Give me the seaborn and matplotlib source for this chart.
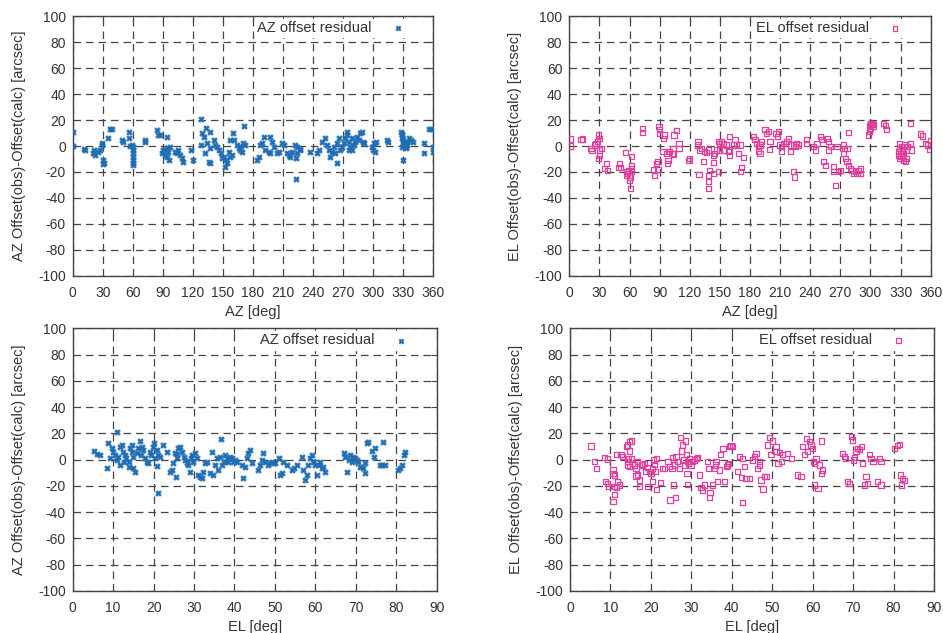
import numpy as np
import pandas as pd
import matplotlib
matplotlib.use("Agg")
import matplotlib.pyplot as plt
import seaborn as sns

# ── Data (AZ deg / EL deg, residual arcsec) ──────────────────────────────────
az_vs_az = [
    (0.6, 11), (0.0, 0), (11.3, -2.5), (12, -3), (21, -3), (20.6, -5.7), (22.3, -7),
    (25.6, -4.4), (27.3, -3), (29, 0.8), (29.6, 2), (30.6, -10.8), (31.3, -13), (30.6, -14),
    (35.6, 6), (37.3, 13), (39, 13), (49, 4.6), (50, 2.8), (56.6, 11), (56.6, 6), (57.3, 0.3),
    (59, 0.8), (60.6, -0.5), (60, -3), (60.6, -5.7), (60.3, -8.3), (60.3, -10.8), (60.6, -13.4),
    (60, -14.7), (72.3, 5), (72.3, 3.4), (84, 12.4), (85.6, 8.5), (87.3, 8.5), (94, 7.2),
    (89, -5.7), (90.6, -3), (94, -1.8), (95.6, -4.4), (97.3, -0.5), (96.3, -10.8), (92.3, -7),
    (94, -8.3), (102, -4.4), (104, -5.7), (105.6, -3), (109, -9.6), (107.3, -7), (110, -12),
    (118, -3), (120, -10.8), (128.3, 20.9), (133.3, 13.7), (137.3, 11.1), (129, 9.8),
    (130.6, 7.2), (128, 0.8), (134, 2.1), (137.3, -1.8), (135.6, -12.1), (137.3, -13.4),
    (132.3, -5.2), (140.6, 4.7), (142.3, 0.8), (144, -0.5), (145.6, -3.1), (148, -5.7),
    (150.6, -8.3), (153.3, -10.9), (152.3, -16), (154, -13.4), (149, -9.6), (157.3, -8.3),
    (159, -7), (160, 9.8), (160.6, 4.7), (157.3, 4.7), (164, 0.8), (165.6, -1.8), (167.3, -3.1),
    (169, -4.4), (170.6, 15.5), (172.3, 0.8), (170, 2.1), (167.3, -0.5), (155.6, -4.4),
    (184, -10.9), (185.6, -8.3), (187.3, 0.8), (189, 2.1), (190.6, 7.2), (192.3, -3.1),
    (197.3, 7.2), (199, 3.4), (195.6, -4.4), (197.3, -5.7), (200.6, -0.5), (204, -5.7),
    (205.6, -4.4), (209, 2.1), (210.6, 0.8), (214, -5.7), (215.6, -7), (217.3, -8.3),
    (219, -4.4), (222.3, 0.8), (224, -0.5), (223.3, -9.6), (224, -5.7), (227.3, -3.1),
    (222.6, -25.6), (226.6, -2.6), (236.6, -4.4), (244, -5.7), (245.6, -3.1), (249, 3.4),
    (252.3, 6), (254, 0.8), (255.6, -3.1), (257.3, -8.3), (259, -4.4), (260.6, -0.5),
    (262.3, -5.7), (264, 2.1), (265.6, 6), (264, -12.9), (267.3, -3.1), (269, -0.5),
    (270.6, 2.1), (272.3, 6), (274, 11.1), (274, 8.5), (275.6, 3.4), (277.3, -0.5), (279, 6),
    (280.6, 0.8), (282.3, 3.4), (284, 7.2), (285.6, 4.7), (287.3, 9.8), (289, 11.1),
    (290, 3.4), (290.6, 2.1), (279, -3.1), (275.6, -3.1), (299, -0.5), (300, -3.1),
    (300.6, 2.1), (302.3, 3.4), (301.3, -4.4), (313.3, 4.7), (314.6, 3.4), (328, 11.1),
    (329, 8.5), (329, 6), (330, 3.4), (330.6, 0.8), (329, -0.5), (331.6, 2.1), (334, 3.4),
    (335.6, 6), (337.3, 4.7), (340, 3.4), (330, -10.9), (332.3, -0.5), (334, 0.8),
    (328.5, 9.5), (329.5, 4.5), (331, 1.5), (333, -1.5), (350.6, 2.1), (350.6, -5.2),
    (355.6, 13), (358, 13), (360, -4.4), (360, -0.5),
]

el_vs_az = [
    (0.7, 5.4), (1.4, 0), (11.7, 4.7), (13.3, 5.4), (21.7, -1.8), (22.7, -3.6), (25, 0.8),
    (26.7, 2.1), (28.3, 3.4), (29.3, 8.5), (30, 6), (30, -3.1), (30, -7), (29.3, -9.6),
    (31.7, -1.8), (36.7, -13.4), (35, -17.3), (38.3, -19.1), (50, -13.4), (49.3, -16.5),
    (50.7, -16.5), (56, -5.2), (56.7, -19.9), (58.3, -21.2), (60, -22.5), (61.7, -8.3),
    (61.7, -14.7), (61.7, -17.3), (61.7, -19.9), (61, -23.8), (60, -26.4), (61, -32.8),
    (56.7, -22.5), (59.3, -18.6), (72.7, 13.7), (73.3, 10.3), (84, -18.1), (85, -22.5),
    (86.7, -13.4), (88.3, -12.1), (88.3, -18.1), (89.3, 15), (90, 12.4), (90, 9.8),
    (93.3, -4.4), (95, 8.5), (94, 6), (96.7, -5.7), (98.3, -10.9), (97.7, -13.4), (100, -4.4),
    (102.7, -5.7), (103.3, -1.8), (104.3, 8.5), (106.7, 11.9), (109.3, 2.1), (109.3, -1.8),
    (104, -6.2), (120, -9.6), (119.3, -11.4), (129.3, -21.7), (128.3, 3.4), (127.7, 0.8),
    (130, -3.1), (131.7, -1.8), (134, -12.1), (135, -4.4), (136.7, -5.2), (138.3, -3.1),
    (139.3, -18.6), (138.3, -22.5), (138.3, -27.6), (138.3, -32.8), (143.3, -21.2),
    (143.3, -7), (145, -5.7), (143.3, -12.9), (148.3, -19.9), (146.7, -3.1), (148.3, 3.4),
    (150, 2.1), (151.7, 3.4), (153.3, 2.1), (153.3, -3.1), (156.7, 0.8), (158.3, -4.4),
    (160, -7), (159.3, 7.2), (160, -3.1), (163.3, 0.8), (165, 4.7), (166.7, 0.8),
    (168.3, -5.7), (170, 0.8), (173.3, -8.8), (171.7, -16.5), (170.7, -19.9), (150, -3.1),
    (183.3, 7.2), (185, 4.7), (186.7, 2.1), (188.3, -0.5), (188.3, -4.4), (190, 0.8),
    (190, -5.7), (191.7, 3.4), (195, 12.4), (196.7, 9.8), (198.3, 11.1), (199.3, -2.6),
    (200, 3.4), (206, 9.8), (208.3, 11.1), (207.3, 7.2), (210, 0.8), (211.7, -0.5),
    (211.7, -4.4), (213.3, 2.1), (216.7, 3.4), (218.3, 6), (220, -4.4), (220, 0.8),
    (223.3, 0.8), (225, -0.5), (226.7, 2.1), (228.3, 0.8), (223.3, -19.9), (224, -23.8),
    (236.7, 4.7), (236.7, 2.1), (243.3, -0.5), (245, -3.1), (246.7, 2.1), (250, 7.2),
    (251.7, 4.7), (253.3, -12.1), (255, -14.7), (256.7, 6), (258.3, 3.4), (260, -0.5),
    (258.3, -3.1), (263.3, -16), (263.3, -19.9), (265, -30.2), (266.7, -0.5), (268.3, -19.9),
    (270, -18.6), (273.3, 0.8), (273.3, -5.7), (275, -9.6), (276.7, -12.1), (278.3, -14.7),
    (280, -17.3), (278.3, 10.3), (281.7, -18.6), (283.3, -21.2), (285, -19.9), (286.7, -21.2),
    (288.3, -18.6), (290, -21.2), (290, -17.3), (274, -1.8), (276.7, -1.8), (298.3, 8.5),
    (299.3, 11.1), (300, 13.7), (300.7, 16.3), (301.7, 17.6), (302.7, 15), (303.3, 16.3),
    (300, 17.6), (299.3, 15.5), (313.3, 17.6), (315, 15.5), (316, 12.9), (340, 17.6),
    (329.3, 2.1), (328.3, -4.4), (328.3, -7), (329.3, -9.6), (330, -5.7), (331.7, -8.3),
    (333.3, -10.9), (335, -12.1), (336, -9.6), (333.3, -5.7), (331.7, -3.1), (336.7, -0.5),
    (336, -3.1), (340, 2.1), (340.7, -3.1), (334, 0.8), (331, -0.5), (329, -2), (330.5, -8),
    (332, -6), (350, 9.3), (351.7, 7.7), (355, 2.1), (356.7, 0.8), (359.3, -2.6), (360, 4.1),
]

az_vs_el = [
    (5.3, 6.5), (6.1, 3.9), (6.8, 3.4), (8.6, -6.2), (8.8, 12.3), (9.2, 1.4), (9.6, 8.5),
    (10.0, 6.0), (10.5, 3.4), (10.9, 20.7), (10.9, -0.4), (11.3, 2.2), (11.7, 9.8),
    (11.7, -4.2), (12.1, 11), (12.5, 6), (12.7, -1.6), (12.9, 3.4), (13.3, 0.9), (13.8, -1.6),
    (14.0, -5.5), (14.2, 9), (14.6, 11), (14.6, 6), (14.8, 2.2), (15.0, -6.7), (15.4, -9.3),
    (15.8, 4.7), (16.2, 8.5), (16.6, 14.1), (16.8, 3.4), (17.1, 9.8), (17.5, 7.2), (17.9, 0.9),
    (18.3, -1.6), (18.7, -2.9), (19.1, 6), (19.4, 3.4), (19.8, 9.8), (20.0, 12.3), (20.4, 0.9),
    (20.8, -4.7), (20.9, 7.2), (21.2, 3.4), (21.6, 2.2), (21.2, -25.3), (22.4, 11.5),
    (23.2, 6), (24.1, -9.3), (24.5, -8), (24.9, -2.9), (25.3, 4.7), (25.5, -13), (25.7, 3.9),
    (25.9, 0.9), (26.1, 8.5), (26.5, 9.8), (26.9, 6), (27.4, 2.2), (27.8, -0.4), (28.2, -2.9),
    (28.6, -4.2), (29.0, -9.3), (29.2, 0.9), (29.4, 3.4), (29.8, -1.6), (30.3, 4.7),
    (30.7, 0.9), (31.1, -11.8), (31.5, -13), (31.9, -14.3), (32.3, -9.3), (32.7, -2.9),
    (33.1, -1.6), (34.0, -10.5), (34.4, 6), (34.8, -11.8), (35.2, -4.2), (35.6, 0.9),
    (36.0, -8), (36.4, 2.2), (36.6, 15.6), (36.8, -4.2), (37.3, -1.6), (37.7, 3.4),
    (38.1, 1.4), (38.5, -1.6), (38.9, 2.2), (39.3, 0.9), (39.7, -1.6), (40.1, -0.4),
    (40.6, -1.6), (41.8, -4.2), (42.2, -14.3), (42.6, -5.5), (43.0, 0.9), (43.4, 4.7),
    (43.8, 7.2), (44.3, -2.9), (45.9, -8), (46.3, -4.2), (46.7, -0.4), (47.1, 4.7),
    (47.6, -1.6), (48.4, -4.2), (48.8, -2.9), (49.2, -1.6), (50.0, -2.9), (50.9, 0.9),
    (51.3, -11.8), (51.7, -10.5), (52.1, -1.6), (52.9, -4.2), (54.2, -8), (54.6, -6.7),
    (55.4, -4.2), (56.6, 2.2), (57.0, -8), (57.5, -15.6), (57.9, -11.8), (58.3, -4.2),
    (58.7, 0.9), (59.1, 3.4), (59.5, -1.6), (59.9, -4.2), (60.3, -11.8), (60.8, -4.2),
    (61.2, -1.6), (61.6, -6.7), (62.0, -5.5), (62.4, -9.3), (67.0, 4.7), (67.4, 2.2),
    (67.8, -9.3), (68.2, -0.4), (68.6, 3.4), (69.0, -1.6), (69.4, 2.2), (69.8, 0.9),
    (70.2, -0.4), (70.6, -1.6), (71.1, -5.5), (71.9, -6.7), (72.3, -10.5), (72.3, -2.9),
    (72.7, 12.3), (73.1, 13.1), (73.9, 6.5), (74.4, 2.2), (74.8, 8.5), (76.0, -4.2),
    (76.4, -4.2), (76.8, 13.1), (77.2, -4.2), (80.5, -8), (80.9, -6.7), (81.4, -4.2),
    (81.8, 3.4), (82.2, 6),
]

el_vs_el = [
    (5.2, 10.4), (6.0, -1.5), (6.6, -6.6), (8.5, 1.5), (9.3, 0.5), (8.7, -16.8), (9.3, -18.0),
    (9.6, -20.6), (10.6, -7.9), (10.6, -10.4), (11.0, -11.7), (11.0, -20.6), (11.4, -21.3),
    (11.0, -26.4), (10.6, -32), (11.5, 4.1), (11.8, -16.8), (12.2, -19.3), (12.6, 3.6),
    (13.0, 2.3), (13.9, 9.9), (14.3, 11.2), (14.7, 13.7), (15.1, 14.2), (14.7, 6.6),
    (14.5, 1.0), (14.3, -1.5), (14.3, -4.1), (14.7, -5.3), (15.1, 0.5), (15.5, -2.8),
    (15.9, -4.1), (16.3, -6.6), (16.7, -1.5), (16.7, -11.7), (17.1, -15.5), (17.1, -20.6),
    (16.3, -12.4), (17.6, -3.6), (18.0, -4.1), (18.4, -2.8), (18.8, -9.1), (19.2, -6.1),
    (19.2, -20.6), (19.6, -9.1), (20.0, -10.4), (20.3, -16.8), (20.4, -6.6), (20.6, -0.3),
    (20.9, -3.6), (21.1, -9.1), (21.3, 1.0), (21.3, -22.6), (22.3, -17.5), (22.8, -6.6),
    (23.3, -6.6), (24.2, -1.5), (24.6, -5.3), (24.7, -30.7), (25.2, -6.6), (25.4, 1.5),
    (25.6, -19.3), (25.8, -4.1), (26.1, -28.9), (26.2, 2.3), (26.6, -1.5), (27.0, -6.6),
    (27.3, 16.8), (27.5, 6.6), (27.9, 11.2), (28.0, -0.3), (28.3, -4.1), (28.5, 14.2),
    (28.7, 3.6), (28.9, -10.4), (29.1, -1.5), (29.1, -18.8), (29.3, -2.8), (29.5, 1.0),
    (29.9, -4.1), (30.3, -1.5), (30.8, -0.3), (31.2, 1.0), (31.6, 1.5), (32.0, -11.7),
    (32.4, -21.3), (32.8, -23.1), (33.2, -19.3), (34.0, -1.5), (34.3, -6.6), (34.5, -28.9),
    (34.6, -25.1), (35.3, -19.3), (35.7, -6.6), (35.9, -4.1), (36.1, -1.5), (36.5, -16.8),
    (36.9, -7.9), (37.3, 4.1), (37.8, 8.6), (38.2, -16.8), (38.6, -5.3), (39.0, -4.1),
    (39.2, -2.8), (39.4, 9.9), (39.8, 10.7), (40.2, 9.9), (41.5, -9.1), (41.9, 2.3),
    (42.3, -13.7), (42.7, 1.0), (42.7, -32.5), (43.1, -5.3), (43.5, -14.2), (44.4, -14.2),
    (45.2, -0.3), (45.6, 2.3), (46.0, 4.8), (46.4, -6.6), (46.8, -1.5), (46.8, -4.1),
    (47.2, -15.5), (47.7, -22.3), (48.1, -12.9), (48.5, -12.9), (48.9, 11.2), (49.3, 16.8),
    (49.7, 4.1), (50.1, 14.2), (50.9, 9.9), (50.9, 6.1), (51.4, -2.8), (51.8, 5.6),
    (52.2, -1.5), (52.6, 3.6), (53.8, 4.8), (54.7, 1.0), (56.3, -11.7), (57.1, -13.0),
    (57.5, 9.9), (57.9, 3.6), (58.4, 16.2), (58.8, 6.1), (59.2, 13.7), (59.6, 11.2),
    (60.0, 8.6), (60.2, -1.5), (60.4, -19.3), (60.8, 1.0), (61.3, -21.8), (61.7, -4.1),
    (62.1, -10.4), (62.5, -7.9), (62.1, 14.2), (60.4, -2.8), (67.4, 4.8), (67.8, 2.3),
    (68.2, 1.0), (68.6, -16.8), (69.1, -18.0), (69.5, 17.5), (69.9, 15.0), (70.1, -0.3),
    (70.3, 1.5), (70.7, 6.1), (71.1, 8.6), (71.6, 7.4), (72.0, 9.9), (72.4, -2.8),
    (72.8, -19.3), (73.2, -12.9), (73.6, -18.0), (74.0, 3.6), (74.4, 1.0), (74.9, -1.5),
    (76.1, -16.8), (76.5, 1.0), (76.9, -1.5), (76.9, -19.3), (80.2, 8.6), (81.0, 10.7),
    (81.5, 11.7), (81.7, -11.7), (82.3, -14.2), (82.7, -16.2), (81.9, -19.3),
]

az_ticks = list(range(0, 361, 30))
el_ticks = list(range(0, 91, 10))
res_ticks = list(range(-100, 101, 20))

AZ_COLOR = "#1f6db4"
EL_COLOR = "#e0409c"
TEXT = "#333333"

# ── Style ─────────────────────────────────────────────────────────────────────
sns.set_theme(style="white")
plt.rcParams["font.family"] = ["Liberation Sans", "DejaVu Sans"]
plt.rcParams["axes.unicode_minus"] = False   # gnuplot prints a plain hyphen
plt.rcParams["text.color"] = TEXT
plt.rcParams["axes.labelcolor"] = TEXT
plt.rcParams["xtick.color"] = TEXT
plt.rcParams["ytick.color"] = TEXT

fig = plt.figure(figsize=(9.43, 6.33), dpi=100)

# axes boxes in figure fractions (left, bottom, width, height)
boxes = [
    (0.0771, 0.5640, 0.3824, 0.4107),
    (0.6037, 0.5640, 0.3832, 0.4107),
    (0.0771, 0.0664, 0.3860, 0.4150),
    (0.6045, 0.0664, 0.3860, 0.4150),
]

panels = [
    (az_vs_az, az_ticks, "AZ [deg]", "AZ Offset(obs)-Offset(calc) [arcsec]", "AZ offset residual", AZ_COLOR, "X"),
    (el_vs_az, az_ticks, "AZ [deg]", "EL Offset(obs)-Offset(calc) [arcsec]", "EL offset residual", EL_COLOR, "s"),
    (az_vs_el, el_ticks, "EL [deg]", "AZ Offset(obs)-Offset(calc) [arcsec]", "AZ offset residual", AZ_COLOR, "X"),
    (el_vs_el, el_ticks, "EL [deg]", "EL Offset(obs)-Offset(calc) [arcsec]", "EL offset residual", EL_COLOR, "s"),
]

for box, (pts, xt, xlab, ylab, name, color, mk) in zip(boxes, panels):
    ax = fig.add_axes(box)
    df = pd.DataFrame(pts, columns=["x", "res"])

    if mk == "s":
        sns.scatterplot(data=df, x="x", y="res", ax=ax, marker="s", s=14,
                        facecolors="none", edgecolor=color, linewidth=0.9,
                        label=name, zorder=3)
    else:
        sns.scatterplot(data=df, x="x", y="res", ax=ax, marker="X", s=18,
                        color=color, edgecolor=color, linewidth=0.3,
                        label=name, zorder=3)

    ax.set_xlim(xt[0], xt[-1])
    ax.set_ylim(-100, 100)
    ax.set_xticks(xt)
    ax.set_yticks(res_ticks)
    ax.tick_params(direction="in", length=4, width=0.8, top=True, right=True,
                   labelsize=10, colors="#444444", labelcolor=TEXT)
    ax.tick_params(axis="x", pad=7)
    ax.tick_params(axis="y", pad=5)
    ax.grid(True, color="#444444", linestyle=(0, (6, 4)), linewidth=0.9)
    for sp in ax.spines.values():
        sp.set_color("#444444")
        sp.set_linewidth(1.0)
    ax.set_xlabel(xlab, fontsize=10.5, labelpad=3.5)
    ax.set_ylabel(ylab, fontsize=10.5, labelpad=9)

    # legend sits a little in from the right edge, marker after the text
    leg = ax.legend(loc="upper right", bbox_to_anchor=(0.936, 1.0),
                    markerfirst=False, frameon=True,
                    fontsize=10.5, handlelength=1.0, handletextpad=1.3,
                    borderpad=0.15, borderaxespad=0.2, markerscale=0.9)
    leg.get_frame().set_facecolor("white")
    leg.get_frame().set_edgecolor("white")
    leg.get_frame().set_alpha(1.0)

fig.savefig("out.png", dpi=100)
